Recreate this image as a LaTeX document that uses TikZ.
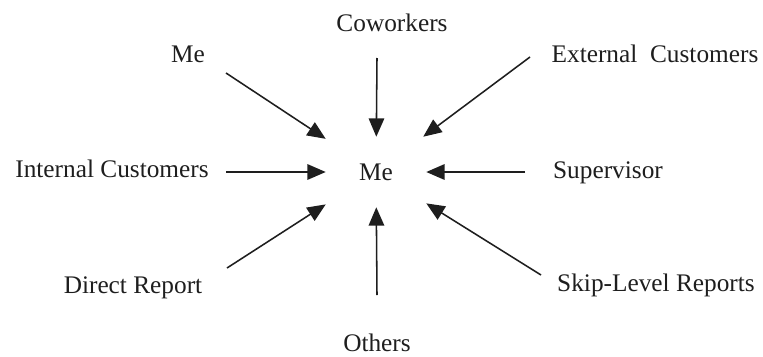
\documentclass[tikz,border=0pt]{standalone}
\usepackage{fontspec}
\setmainfont{Liberation Serif}
\usetikzlibrary{arrows.meta}
\definecolor{inkgray}{RGB}{30,30,30}
\tikzset{
  lbl/.style={font=\fontsize{18}{20}\selectfont,text=inkgray,inner sep=0pt,anchor=base},
  hub/.style={font=\fontsize{18}{20}\selectfont,text=inkgray,inner sep=0pt,minimum width=2.5cm,minimum height=1.75cm},
  arr/.style={draw=inkgray,line width=1.1pt,-{Triangle[length=13pt,width=11pt]}}
}
\begin{document}
\begin{tikzpicture}[x=0.025cm,y=-0.025cm]
      \useasboundingbox (0,0) rectangle (763,356);
      \node[hub] (me) at (376,172) {Me};
      \node[lbl] (self) at (188,62) {Me}; \node[lbl] (cow) at (392,31) {Coworkers}; \node[lbl] (ext) at (655,62) {External\ \ Customers};
      \node[lbl] (int) at (112,177) {Internal Customers}; \node[lbl] (sup) at (608,178) {Supervisor};
      \node[lbl] (dir) at (133,293) {Direct Report}; \node[lbl] (oth) at (377,351) {Others}; \node[lbl] (skip) at (656,291) {Skip-Level Reports};
      \draw[arr] ([shift={(38,11)}]self.base) -- (me); \draw[arr] ([shift={(-15,27)}]cow.base) -- (me); \draw[arr] ([shift={(-125,-5)}]ext.base) -- (me);
      \draw[arr] ([shift={(114,-5)}]int.base) -- (me); \draw[arr] ([shift={(-83,-6)}]sup.base) -- (me);
      \draw[arr] ([shift={(94,-25)}]dir.base) -- (me); \draw[arr] ([shift={(0,-56)}]oth.base) -- (me); \draw[arr] ([shift={(-115,-16)}]skip.base) -- (me);
    \end{tikzpicture}
\end{document}
